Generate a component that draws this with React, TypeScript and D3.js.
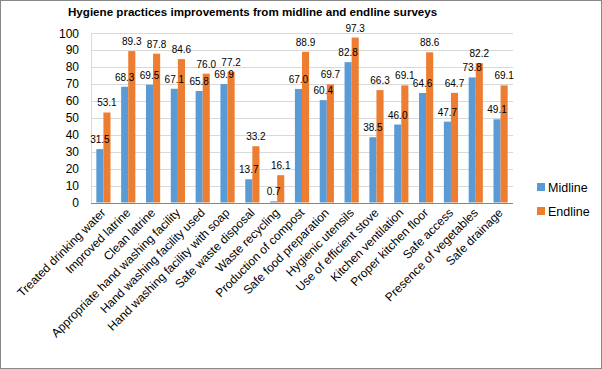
import * as d3 from "d3"

const categories = [
  "Treated drinking water",
  "Improved latrine",
  "Clean latrine",
  "Appropriate hand washing facility",
  "Hand washing facility used",
  "Hand washing facility with soap",
  "Safe waste disposal",
  "Waste recycling",
  "Production of compost",
  "Safe food preparation",
  "Hygienic utensils",
  "Use of efficient stove",
  "Kitchen ventilation",
  "Proper kitchen floor",
  "Safe access",
  "Presence of vegetables",
  "Safe drainage",
]

const midline = [31.5, 68.3, 69.5, 67.1, 65.8, 69.9, 13.7, 0.7, 67.0, 60.4, 82.8, 38.5, 46.0, 64.6, 47.7, 73.8, 49.1]
const endline = [53.1, 89.3, 87.8, 84.6, 76.0, 77.2, 33.2, 16.1, 88.9, 69.7, 97.3, 66.3, 69.1, 88.6, 64.7, 82.2, 69.1]

const yTicks = [0, 10, 20, 30, 40, 50, 60, 70, 80, 90, 100]

const series = [
  { name: "Midline", values: midline, color: "#5b9bd5" },
  { name: "Endline", values: endline, color: "#ed7d31" },
]

const width = 602
const height = 369
const font = "'Liberation Sans', Arial, sans-serif"

export default function App() {
  const margin = { top: 33, right: 89, bottom: 166.5, left: 91 }

  const x = d3
    .scaleBand()
    .domain(categories)
    .range([margin.left, width - margin.right])
    .padding(0)

  const y = d3.scaleLinear().domain([0, 100]).range([height - margin.bottom, margin.top])

  const barW = x.bandwidth() / 3.5
  const barX = (i: number, si: number) =>
    (x(categories[i]) as number) + x.bandwidth() / 2 - barW + si * barW

  return (
    <svg
      width={width}
      height={height}
      style={{ position: "fixed", left: 0, top: 0, background: "#fff" }}
      fontFamily={font}
    >
      <rect x={0.5} y={0.5} width={width - 1} height={height - 1} fill="#fff" stroke="#888" />

      {/* title */}
      <text x={68} y={16} fontSize={11.6} fontWeight="bold" fill="#000">
        Hygiene practices improvements from midline and endline surveys
      </text>

      {/* gridlines + y ticks */}
      {yTicks.map((t) => (
        <g key={t}>
          {t > 0 && (
            <line
              x1={margin.left}
              x2={width - margin.right}
              y1={Math.round(y(t)) + 0.5}
              y2={Math.round(y(t)) + 0.5}
              stroke="#d9d9d9"
            />
          )}
          <text x={79} y={y(t) + 4.5} fontSize={12} textAnchor="end" fill="#000">
            {t}
          </text>
        </g>
      ))}

      {/* axes */}
      <line
        x1={margin.left + 0.5}
        x2={margin.left + 0.5}
        y1={margin.top}
        y2={y(0)}
        stroke="#d9d9d9"
      />
      <line
        x1={margin.left}
        x2={width - margin.right}
        y1={Math.round(y(0)) + 0.5}
        y2={Math.round(y(0)) + 0.5}
        stroke="#868686"
      />

      {/* bars */}
      {series.map((s, si) =>
        s.values.map((v, i) => (
          <rect
            key={s.name + i}
            x={barX(i, si)}
            y={y(v)}
            width={barW}
            height={y(0) - y(v)}
            fill={s.color}
          />
        )),
      )}

      {/* data labels */}
      {series.map((s, si) =>
        s.values.map((v, i) => (
          <text
            key={s.name + "l" + i}
            x={barX(i, si) + barW / 2}
            y={y(v) - 6}
            fontSize={10}
            textAnchor="middle"
            fill="#000"
          >
            {v.toFixed(1)}
          </text>
        )),
      )}

      {/* category labels */}
      {categories.map((c) => {
        const cx = (x(c) as number) + x.bandwidth() / 2 + 3
        return (
          <text
            key={c}
            transform={`translate(${cx},${y(0) + 11}) rotate(-45)`}
            fontSize={12}
            textAnchor="end"
            fill="#000"
          >
            {c}
          </text>
        )
      })}

      {/* legend */}
      {series.map((s, i) => (
        <g key={s.name} transform={`translate(537,${183 + i * 24})`}>
          <rect width={8} height={8} fill={s.color} />
          <text x={11} y={9} fontSize={12.5} fill="#000">
            {s.name}
          </text>
        </g>
      ))}
    </svg>
  )
}
